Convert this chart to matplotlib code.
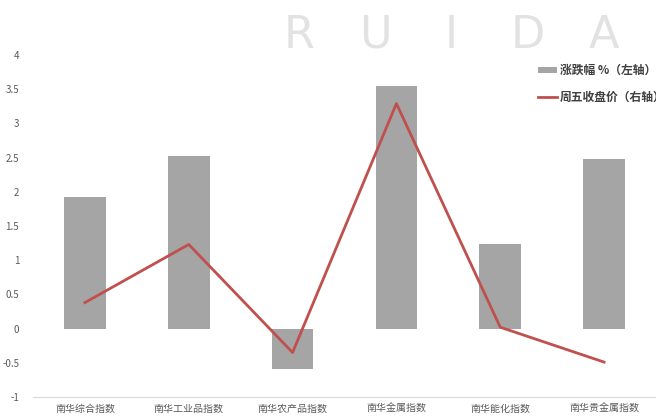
import numpy as np
import matplotlib.pyplot as plt

plt.rcParams['font.family'] = ['Noto Sans CJK SC', 'DejaVu Sans']

categories = ['南华综合指数', '南华工业品指数', '南华农产品指数', '南华金属指数', '南华能化指数', '南华贵金属指数']
change_pct = [1.93, 2.52, -0.59, 3.55, 1.23, 2.48]
close_fri = [0.38, 1.23, -0.35, 3.29, 0.02, -0.49]

fig = plt.figure(figsize=(6.56, 4.16), dpi=100)

# faint watermark at the top
for i, ch in enumerate('RUIDA'):
    fig.text(0.456 + i * 0.116, 0.885, ch, fontsize=32, color='#e2e2e2',
             ha='center', va='baseline', family='DejaVu Sans')

ax = fig.add_axes([0.0503, 0.0457, 0.9497, 0.8221])
x = np.arange(len(categories))
ax.bar(x, change_pct, width=0.4, color='#a5a5a5', label='涨跌幅 %（左轴）')
ax.set_ylim(-1, 4)
ax.set_xlim(-0.5, len(categories) - 0.5)
ax.set_yticks(np.arange(-1, 4.01, 0.5))
ax.set_yticklabels(['-1', '-0.5', '0', '0.5', '1', '1.5', '2', '2.5', '3', '3.5', '4'])
ax.set_xticks(x)
ax.set_xticklabels(categories)
ax.tick_params(axis='y', length=0, labelsize=7, labelcolor='#595959', pad=10)
ax.tick_params(axis='x', length=0, labelsize=7.2, labelcolor='#595959', pad=5)
for s in ['top', 'right', 'left']:
    ax.spines[s].set_visible(False)
ax.spines['bottom'].set_color('#d9d9d9')

ax2 = ax.twinx()
ax2.plot(x, close_fri, color='#c0504d', linewidth=2, label='周五收盘价（右轴）')
ax2.set_ylim(-1, 4)
ax2.axis('off')

h1, l1 = ax.get_legend_handles_labels()
h2, l2 = ax2.get_legend_handles_labels()
leg = ax2.legend(h1 + h2, l1 + l2, loc='upper left', bbox_to_anchor=(0.793, 1.005),
                 frameon=False, fontsize=8.5, labelspacing=1.15, handlelength=1.6,
                 handleheight=0.4, handletextpad=0.3)
for t in leg.get_texts():
    t.set_color('#404040')
    t.set_fontweight('bold')

fig.savefig('out.png', dpi=100)
